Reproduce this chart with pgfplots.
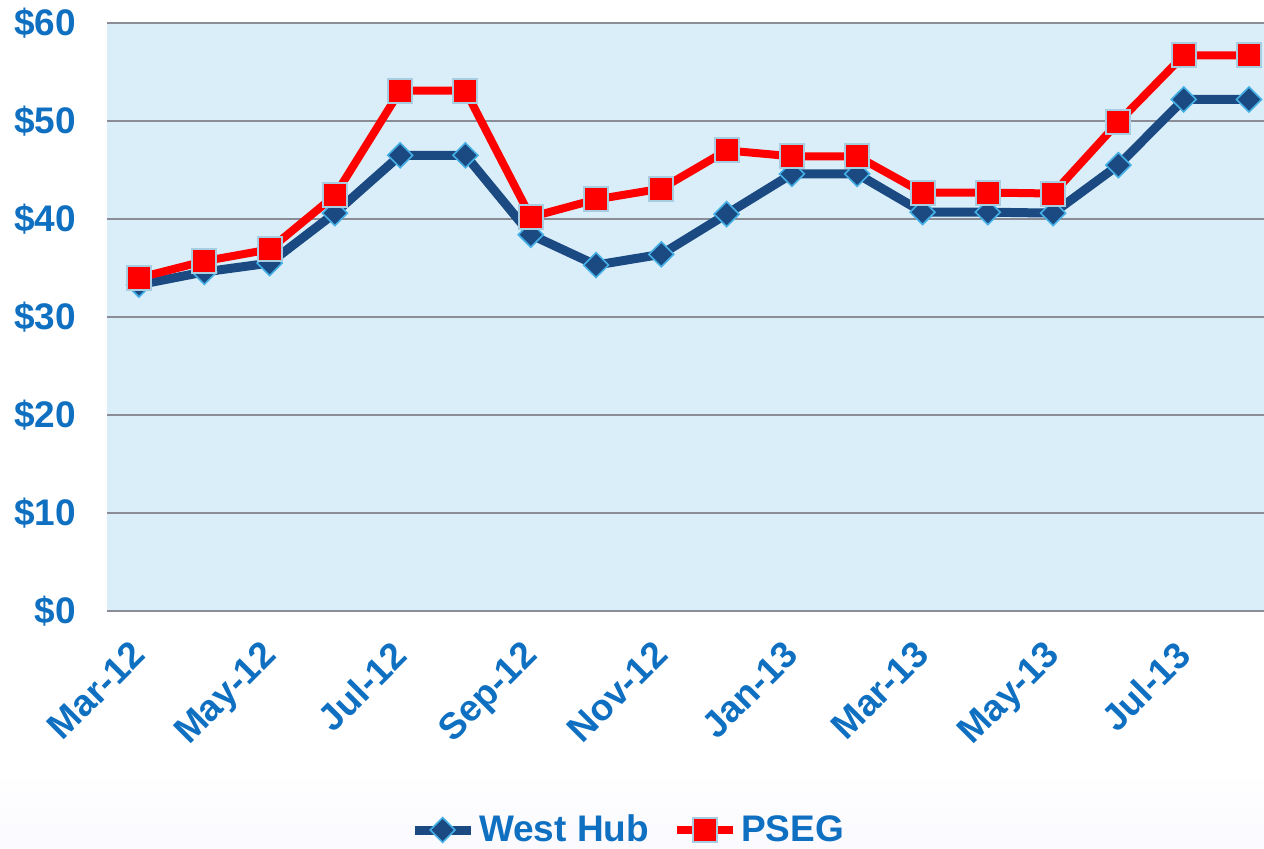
\documentclass[border=0pt]{standalone}
\usepackage{fontspec}
\setmainfont{Liberation Sans}
\usepackage{pgfplots}
\pgfplotsset{compat=1.18}

\definecolor{txtblue}{HTML}{0F6FC0}
\definecolor{navy}{HTML}{1B4A82}
\definecolor{edgeblue}{HTML}{45B0E6}
\definecolor{edgegray}{HTML}{A8CDE0}
\definecolor{plotbg}{HTML}{D9EEF9}
\definecolor{gridgray}{HTML}{8A8D96}

% months from Mar-12 (0) to Aug-13 (17)
\pgfplotstableread{
x westhub pseg
0  33.3 34.0
1  34.6 35.7
2  35.5 36.9
3  40.6 42.4
4  46.5 53.1
5  46.5 53.1
6  38.4 40.2
7  35.3 42.0
8  36.4 43.1
9  40.5 47.0
10 44.6 46.4
11 44.6 46.4
12 40.7 42.7
13 40.7 42.7
14 40.6 42.6
15 45.5 49.9
16 52.2 56.7
17 52.2 56.7
}\prices

\begin{document}
\begin{tikzpicture}
\path[use as bounding box] (-53.5pt,-118.5pt) rectangle (578.5pt,305.5pt);
\shade[top color=white, bottom color=black!3!blue!2] (-53.5pt,-79.5pt) rectangle (578.5pt,-118.5pt);
\begin{axis}[
    at={(0,0)}, anchor=south west,
    scale only axis,
    width=578.5pt, height=294pt,
    xmin=-0.49, xmax=17.23,
    ymin=0, ymax=60,
    axis background/.style={fill=plotbg},
    axis line style={draw=none},
    major tick style={draw=none},
    ymajorgrids,
    major grid style={gridgray, line width=1pt},
    ytick={0,10,...,60},
    yticklabels={\$0,\$10,\$20,\$30,\$40,\$50,\$60},
    yticklabel style={anchor=east, xshift=-12pt, font=\fontsize{18.5}{18.5}\selectfont\bfseries, text=txtblue},
    xtick={0,2,...,16},
    xticklabels={Mar-12,May-12,Jul-12,Sep-12,Nov-12,Jan-13,Mar-13,May-13,Jul-13},
    xticklabel style={xshift=-5pt, yshift=-9pt, rotate=45, anchor=north east, font=\fontsize{18.5}{18.5}\selectfont\bfseries, text=txtblue},
    legend style={at={(261pt,-109.5pt)}, anchor=center, draw=none, fill=none,
        legend columns=-1, font=\fontsize{18.5}{18.5}\selectfont\bfseries, text=txtblue,
        /tikz/every even column/.append style={column sep=10pt}},
    legend image code/.code={
        \draw[#1, mark repeat=2, mark phase=2] plot coordinates {(0pt,0pt) (14pt,0pt) (28pt,0pt)};
    },
    clip=false,
]
\addplot[navy, line width=4.5pt, mark=square*,
    mark options={rotate=45, mark size=4.4pt, fill=navy, draw=edgeblue, line width=0.8pt}]
    table[x=x, y=westhub] {\prices};
\addplot[red, line width=4pt, mark=square*,
    mark options={mark size=6pt, fill=red, draw=edgegray, line width=1pt}]
    table[x=x, y=pseg] {\prices};
\legend{West Hub, PSEG}
\end{axis}
\end{tikzpicture}
\end{document}
